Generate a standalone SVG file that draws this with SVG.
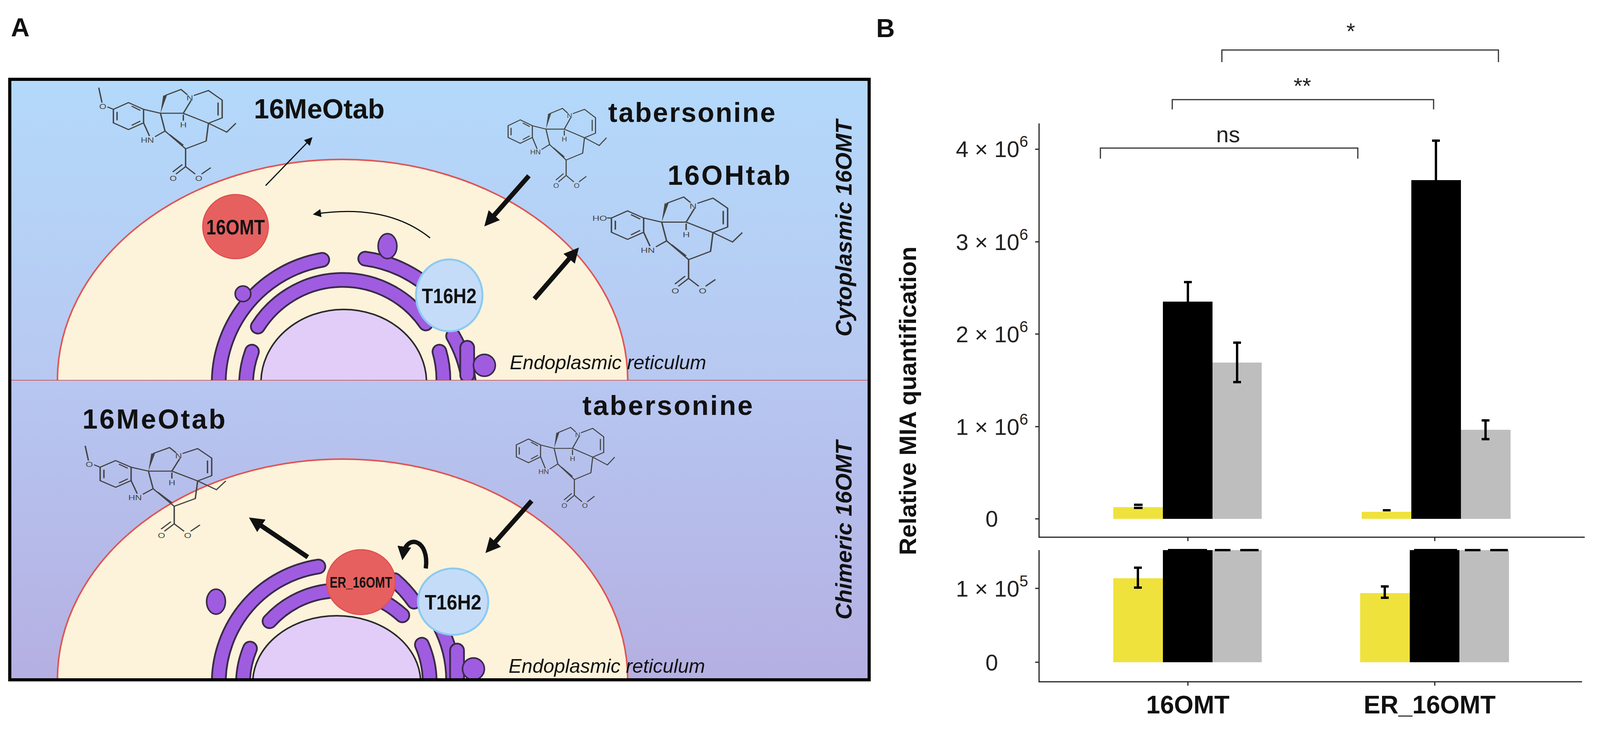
<svg xmlns="http://www.w3.org/2000/svg" xmlns:xlink="http://www.w3.org/1999/xlink" width="4097" height="1871" viewBox="0 0 4097 1871">
<style>
.lbl{font-family:"Liberation Sans",Arial,sans-serif;font-weight:bold;fill:#111}
.er{fill:none;stroke:#3a2a4a;stroke-width:40;stroke-linecap:round}
.erp{fill:none;stroke:#a05ce0;stroke-width:31;stroke-linecap:round}
.mol{fill:none;stroke:#444;stroke-width:3}
.mt{font-family:"Liberation Sans",Arial,sans-serif;font-size:20px;fill:#444}
.ax{stroke:#222;stroke-width:3;fill:none}
.tk{font-family:"Liberation Sans",Arial,sans-serif;font-size:58px;fill:#222}
.br{stroke:#333;stroke-width:3;fill:none}
.eb{stroke:#000;stroke-width:6;fill:none}
</style>
<defs>
<linearGradient id="gTop" x1="0" y1="0" x2="0" y2="1"><stop offset="0" stop-color="#b3d9fb"/><stop offset="1" stop-color="#b8c8f1"/></linearGradient>
<linearGradient id="gBot" x1="0" y1="0" x2="0" y2="1"><stop offset="0" stop-color="#b6c7f1"/><stop offset="1" stop-color="#b5afe2"/></linearGradient>
<clipPath id="cTop"><rect x="25" y="203" width="2200" height="771"/></clipPath>
<clipPath id="cBot"><rect x="25" y="974" width="2200" height="766"/></clipPath>
<marker id="ah" viewBox="0 0 10 10" refX="8" refY="5" markerWidth="7" markerHeight="7" orient="auto"><path d="M0,0 L10,5 L0,10 Z" fill="#111"/></marker>
<marker id="ahB" viewBox="0 0 10 10" refX="6" refY="5" markerWidth="3.2" markerHeight="3.2" orient="auto"><path d="M0,0 L10,5 L0,10 Z" fill="#111"/></marker>
<g id="core">
<path class="mol" d="M70,82 L103,101 L103,139 L70,158 L37,139 L37,101 Z M77,92 L96,104 M96,134 L77,146 M45,108 L45,132"/>
<path class="mol" d="M103,139 L116,176 M128,178 L150,162 L140,112 L103,101"/>
<path d="M140,112 L146,62 L154,62 Z" fill="#444"/>
<path class="mol" d="M150,62 L185,45 L199,60 M207,76 L190,112 L140,112"/>
<path class="mol" d="M213,62 L245,48 L275,75 L275,125 L245,140 L190,112 M266,82 L266,118 M245,140 L285,165 L305,140"/>
<path class="mol" d="M245,140 L240,190 L195,212 L150,162 M160,172 L190,202 M190,116 L190,133"/>
<path class="mol" d="M195,212 L195,262 L174,283 M188,256 L167,277 M195,262 L216,283 M230,283 L250,265"/>
<text class="mt" x="97" y="194">HN</text><text class="mt" x="197" y="76">N</text><text class="mt" x="183" y="152">H</text>
<text class="mt" x="160" y="302">O</text><text class="mt" x="216" y="302">O</text>
</g>
<g id="meo"><use xlink:href="#core"/><path class="mol" d="M37,101 L24,94 M12,82 L5,40"/><text class="mt" x="6" y="100">O</text></g>
<g id="hoo"><use xlink:href="#core"/><path class="mol" d="M37,101 L28,101"/><text class="mt" x="-2" y="108">HO</text></g>
</defs>
<rect width="4097" height="1871" fill="#fff"/>
<text class="lbl" x="28" y="93" font-size="66">A</text>
<text class="lbl" x="2243" y="95" font-size="66">B</text>

<g id="panelA-top">
<rect x="25" y="203" width="2200" height="771" fill="url(#gTop)"/>
<g clip-path="url(#cTop)">
<ellipse cx="877" cy="974" rx="730" ry="566" fill="#fdf3da" stroke="#e05555" stroke-width="4"/>
<ellipse cx="880" cy="980" rx="212" ry="188" fill="#e2cdf9" stroke="#2a2a2a" stroke-width="4"/>
<g id="er-top">
<path class="er" d="M560,976 A320,320 0 0 1 825,665 M935,662 A320,320 0 0 1 1125,760 M1160,860 A320,320 0 0 1 1200,976"/>
<path class="er" d="M660,836 A258,258 0 0 1 1090,828 M630,976 A250,250 0 0 1 645,900 M1125,900 A258,258 0 0 1 1135,976"/>
<path class="erp" d="M560,976 A320,320 0 0 1 825,665 M935,662 A320,320 0 0 1 1125,760 M1160,860 A320,320 0 0 1 1200,976"/>
<path class="erp" d="M660,836 A258,258 0 0 1 1090,828 M630,976 A250,250 0 0 1 645,900 M1125,900 A258,258 0 0 1 1135,976"/>
<ellipse cx="992" cy="630" rx="24" ry="32" fill="#a05ce0" stroke="#3a2a4a" stroke-width="4"/>
<circle cx="622" cy="752" r="20" fill="#a05ce0" stroke="#3a2a4a" stroke-width="4"/>
<path class="er" d="M1196,890 V960"/><path class="erp" d="M1196,890 V960"/>
<circle cx="1240" cy="935" r="28" fill="#a05ce0" stroke="#3a2a4a" stroke-width="4"/>
</g>
</g>
<line x1="25" y1="974" x2="2225" y2="974" stroke="#d04040" stroke-width="3"/>
<g id="n-16OMT-top"><ellipse cx="603" cy="580" rx="84" ry="82" fill="#e66060" stroke="#e05050" stroke-width="3"/><text class="lbl" x="603" y="600" font-size="54" text-anchor="middle" textLength="150" lengthAdjust="spacingAndGlyphs">16OMT</text></g>
<g id="n-T16H2-top"><ellipse cx="1150" cy="756" rx="85" ry="92" fill="#c5dcf8" stroke="#8ccaf2" stroke-width="5"/><text class="lbl" x="1150" y="776" font-size="54" text-anchor="middle" textLength="140" lengthAdjust="spacingAndGlyphs">T16H2</text></g>
<use xlink:href="#meo" transform="translate(247,188) scale(1.17,0.91)"/>
<use xlink:href="#core" transform="translate(1266,242) scale(0.94,0.79)"/>
<use xlink:href="#hoo" transform="translate(1519,461) scale(1.25,0.96)"/>
<text class="lbl" x="650" y="303" font-size="70">16MeOtab</text>
<text class="lbl" x="1557" y="312" font-size="70" textLength="428">tabersonine</text>
<text class="lbl" x="1709" y="473" font-size="70" textLength="314">16OHtab</text>
<text x="1305" y="945" font-family="Liberation Sans,Arial,sans-serif" font-style="italic" font-size="50" fill="#111">Endoplasmic reticulum</text>
<text transform="translate(2180,584) rotate(-90)" text-anchor="middle" font-family="Liberation Sans,Arial,sans-serif" font-weight="bold" font-style="italic" font-size="58" fill="#111">Cytoplasmic 16OMT</text>
</g>

<g id="panelA-bottom">
<rect x="25" y="974" width="2200" height="766" fill="url(#gBot)"/>
<g clip-path="url(#cBot)">
<ellipse cx="877" cy="1740" rx="730" ry="565" fill="#fdf3da" stroke="#e05555" stroke-width="4"/>
<ellipse cx="862" cy="1748" rx="215" ry="172" fill="#e2cdf9" stroke="#2a2a2a" stroke-width="4"/>
<g id="er-bottom">
<path class="er" d="M560,1745 A302,302 0 0 1 815,1450 M1010,1485 A302,302 0 0 1 1060,1540 M1125,1600 A302,302 0 0 1 1160,1745"/>
<path class="er" d="M690,1590 A240,240 0 0 1 1030,1575 M622,1745 A240,240 0 0 1 640,1660 M1080,1650 A240,240 0 0 1 1100,1745"/>
<path class="erp" d="M560,1745 A302,302 0 0 1 815,1450 M1010,1485 A302,302 0 0 1 1060,1540 M1125,1600 A302,302 0 0 1 1160,1745"/>
<path class="erp" d="M690,1590 A240,240 0 0 1 1030,1575 M622,1745 A240,240 0 0 1 640,1660 M1080,1650 A240,240 0 0 1 1100,1745"/>
<ellipse cx="553" cy="1540" rx="24" ry="32" fill="#a05ce0" stroke="#3a2a4a" stroke-width="4"/>
<path class="er" d="M1170,1665 V1735"/><path class="erp" d="M1170,1665 V1735"/>
<circle cx="1212" cy="1712" r="28" fill="#a05ce0" stroke="#3a2a4a" stroke-width="4"/>
</g>
</g>
<g id="n-ER16OMT"><ellipse cx="924" cy="1490" rx="88" ry="83" fill="#e66060" stroke="#e05050" stroke-width="3"/><text class="lbl" x="924" y="1504" font-size="38" text-anchor="middle" textLength="160" lengthAdjust="spacingAndGlyphs">ER_16OMT</text></g>
<g id="n-T16H2-bot"><ellipse cx="1160" cy="1540" rx="90" ry="85" fill="#c5dcf8" stroke="#8ccaf2" stroke-width="5"/><text class="lbl" x="1160" y="1560" font-size="54" text-anchor="middle" textLength="145" lengthAdjust="spacingAndGlyphs">T16H2</text></g>
<use xlink:href="#meo" transform="translate(212,1105) scale(1.2,0.9)"/>
<use xlink:href="#core" transform="translate(1287,1058) scale(0.94,0.8)"/>
<text class="lbl" x="211" y="1097" font-size="70" textLength="366">16MeOtab</text>
<text class="lbl" x="1491" y="1062" font-size="70" textLength="436">tabersonine</text>
<text x="1302" y="1722" font-family="Liberation Sans,Arial,sans-serif" font-style="italic" font-size="50" fill="#111">Endoplasmic reticulum</text>
<text transform="translate(2180,1357) rotate(-90)" text-anchor="middle" font-family="Liberation Sans,Arial,sans-serif" font-weight="bold" font-style="italic" font-size="58" fill="#111">Chimeric 16OMT</text>
</g>
<rect x="25" y="203" width="2200" height="1537" fill="none" stroke="#000" stroke-width="8"/>

<g id="connectors">
<line x1="680" y1="475" x2="797" y2="354" stroke="#111" stroke-width="3" marker-end="url(#ah)"/>
<path d="M1101,609 Q990,520 805,548" stroke="#111" stroke-width="3" fill="none" marker-end="url(#ah)"/>
<line x1="1354" y1="450" x2="1250" y2="568" stroke="#111" stroke-width="12" marker-end="url(#ahB)"/>
<line x1="1368" y1="765" x2="1472" y2="645" stroke="#111" stroke-width="12" marker-end="url(#ahB)"/>
<line x1="788" y1="1426" x2="650" y2="1333" stroke="#111" stroke-width="12" marker-end="url(#ahB)"/>
<line x1="1361" y1="1282" x2="1253" y2="1404" stroke="#111" stroke-width="12" marker-end="url(#ahB)"/>
<path d="M1090,1455 C1100,1380 1040,1365 1032,1420" stroke="#111" stroke-width="11" fill="none" marker-end="url(#ahB)"/>
</g>

<g id="chart">
<text transform="translate(2345,1026) rotate(-90)" text-anchor="middle" class="lbl" font-size="62">Relative MIA quantification</text>
<path class="ax" d="M2660,316 V1375 H4057 M2650,382 H2660 M2650,619 H2660 M2650,855 H2660 M2650,1092 H2660 M2650,1328 H2660 M3041,1375 V1385 M3673,1375 V1385"/>
<path class="ax" d="M2660,1408 V1745 H4050 M2650,1506 H2660 M2650,1695 H2660 M3041,1745 V1755 M3673,1745 V1755"/>
<g class="tk" text-anchor="end">
<text x="2632" y="402">4 × 10<tspan font-size="40" dy="-26">6</tspan></text>
<text x="2632" y="640">3 × 10<tspan font-size="40" dy="-26">6</tspan></text>
<text x="2632" y="876">2 × 10<tspan font-size="40" dy="-26">6</tspan></text>
<text x="2632" y="1113">1 × 10<tspan font-size="40" dy="-26">6</tspan></text>
<text x="2555" y="1348">0</text>
<text x="2632" y="1527">1 × 10<tspan font-size="40" dy="-26">5</tspan></text>
<text x="2555" y="1716">0</text>
</g>
<g id="bars-upper">
<rect x="2850" y="1298" width="127" height="30" fill="#f0e23c"/>
<rect x="2977" y="772" width="127" height="556" fill="#000"/>
<rect x="3104" y="928" width="126" height="400" fill="#bebebe"/>
<rect x="3486" y="1310" width="127" height="18" fill="#f0e23c"/>
<rect x="3613" y="461" width="127" height="867" fill="#000"/>
<rect x="3740" y="1100" width="127" height="228" fill="#bebebe"/>
<path class="eb" d="M2903,1292 H2925 M2903,1300 H2925 M3041,772 V722 M3031,722 H3051 M3167,877 V978 M3157,877 H3177 M3157,978 H3177 M3540,1306 H3560 M3676,461 V360 M3666,360 H3686 M3803,1076 V1124 M3793,1076 H3813 M3793,1124 H3813"/>
</g>
<g id="bars-lower">
<rect x="2850" y="1480" width="127" height="215" fill="#f0e23c"/>
<rect x="2977" y="1408" width="127" height="287" fill="#000"/>
<rect x="3104" y="1408" width="126" height="287" fill="#bebebe"/>
<rect x="3482" y="1518" width="127" height="177" fill="#f0e23c"/>
<rect x="3609" y="1408" width="127" height="287" fill="#000"/>
<rect x="3736" y="1408" width="127" height="287" fill="#bebebe"/>
<path class="eb" d="M2913,1453 V1504 M2903,1453 H2923 M2903,1504 H2923 M3545,1501 V1530 M3535,1501 H3555 M3535,1530 H3555 M2990,1408 H3090 M3110,1408 H3150 M3175,1408 H3222 M3620,1408 H3730 M3750,1408 H3790 M3815,1408 H3860"/>
</g>
<text class="lbl" x="3041" y="1826" font-size="64" text-anchor="middle">16OMT</text>
<text class="lbl" x="3660" y="1826" font-size="64" text-anchor="middle">ER_16OMT</text>
<path class="br" d="M2817,406 V379 H3476 V406 M3001,280 V255 H3670 V280 M3128,159 V128 H3836 V159"/>
<text class="tk" x="3144" y="364" text-anchor="middle" font-size="62">ns</text>
<text class="tk" x="3334" y="240" text-anchor="middle" font-size="62">**</text>
<text class="tk" x="3458" y="100" text-anchor="middle" font-size="62">*</text>
</g>
</svg>
